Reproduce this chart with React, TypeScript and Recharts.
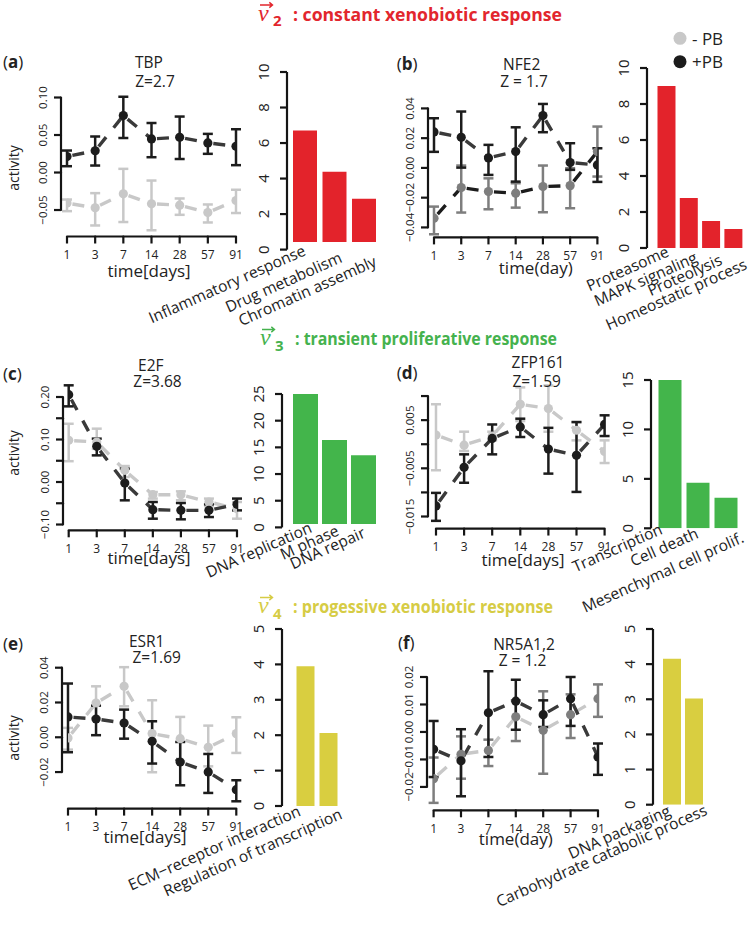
import React from "react";
import { Bar, BarChart, ComposedChart, ErrorBar, Line, XAxis, YAxis } from "recharts";

const DAYS = ["1", "3", "7", "14", "28", "57", "91"];

// (a) TBP
const tbpPb = [0.0213, 0.029, 0.0759, 0.0448, 0.047, 0.0395, 0.035];
const tbpPbLo = [0.0084, 0.0093, 0.046, 0.0204, 0.018, 0.0249, 0.0098];
const tbpPbHi = [0.0293, 0.048, 0.101, 0.066, 0.0746, 0.0515, 0.0577];
const tbpCtl = [-0.0408, -0.047, -0.0284, -0.0417, -0.0435, -0.0533, -0.0373];
const tbpCtlLo = [-0.0515, -0.0706, -0.066, -0.077, -0.0564, -0.0666, -0.054];
const tbpCtlHi = [-0.036, -0.0275, 0.0049, -0.0107, -0.0346, -0.0426, -0.023];

// (b) NFE2
const nfePb = [0.0242, 0.0206, 0.0067, 0.011, 0.0352, 0.0036, 0.002];
const nfePbLo = [0.0108, 0.0002, -0.0047, -0.0092, 0.024, -0.0013, -0.0094];
const nfePbHi = [0.0334, 0.0379, 0.0155, 0.0273, 0.043, 0.0166, 0.0132];
const nfeCtl = [-0.0338, -0.0132, -0.0159, -0.017, -0.0125, -0.0119, 0.011];
const nfeCtlLo = [-0.0446, -0.03, -0.0278, -0.0267, -0.0298, -0.0271, -0.0058];
const nfeCtlHi = [-0.026, 0.0016, -0.007, -0.0103, 0.0016, -0.0002, 0.0278];

// (c) E2F
const e2fPb = [0.2055, 0.0839, -0.0024, -0.0651, -0.0667, -0.0667, -0.0525];
const e2fPbLo = [0.178, 0.0627, -0.0431, -0.0863, -0.0878, -0.0824, -0.0667];
const e2fPbHi = [0.2275, 0.102, 0.0314, -0.047, -0.0494, -0.0525, -0.039];
const e2fCtl = [0.098, 0.094, 0.0275, -0.0298, -0.0298, -0.047, -0.0627];
const e2fCtlLo = [0.049, 0.078, 0.0118, -0.039, -0.043, -0.057, -0.0863];
const e2fCtlHi = [0.137, 0.1255, 0.0376, -0.0235, -0.022, -0.039, -0.047];

// (d) ZFP161
const zfpPb = [-0.0128, -0.0048, 0.0012, 0.0036, -0.001, -0.0023, 0.0041];
const zfpPbLo = [-0.0159, -0.008, -0.0021, 0.0015, -0.0061, -0.0099, 0.0017];
const zfpPbHi = [-0.0101, -0.0021, 0.0041, 0.0053, 0.0034, 0.0046, 0.006];
const zfpCtl = [0.0019, -0.0002, 0.0017, 0.0083, 0.0074, 0.0029, -0.0015];
const zfpCtlLo = [-0.0054, -0.0014, 0.0008, 0.0048, 0.0026, 0.0008, -0.0039];
const zfpCtlHi = [0.0083, 0.0026, 0.0026, 0.0118, 0.0122, 0.0046, 0.0008];

// (e) ESR1
const esrPb = [0.0117, 0.0105, 0.0082, -0.0023, -0.0142, -0.0199, -0.0301];
const esrPbLo = [-0.0086, 0.0012, -0.0008, -0.0151, -0.0276, -0.032, -0.0368];
const esrPbHi = [0.0309, 0.0182, 0.0159, 0.0092, -0.0027, -0.0096, -0.0247];
const esrCtl = [-0.0004, 0.0197, 0.0293, 0.0021, -0.0008, -0.0058, 0.0021];
const esrCtlLo = [-0.0071, 0.0111, 0.0178, -0.0201, -0.0138, -0.0167, -0.009];
const esrCtlHi = [0.0054, 0.0293, 0.0403, 0.0213, 0.0117, 0.0067, 0.0115];

// (f) NR5A1,2
const nr5Pb = [-0.0063, -0.0105, 0.007, 0.0112, 0.0063, 0.0121, -0.0091];
const nr5PbLo = [-0.0164, -0.0234, -0.0091, 0.0008, 0.0018, 0.0022, -0.0156];
const nr5PbHi = [0.004, 0.001, 0.0221, 0.019, 0.0115, 0.02, -0.0042];
const nr5Ctl = [-0.017, -0.0081, -0.0067, 0.0055, 0.0006, 0.0063, 0.0121];
const nr5CtlLo = [-0.0258, -0.017, -0.0124, -0.0033, -0.0152, -0.0022, 0.0055];
const nr5CtlHi = [-0.0093, -0.0016, -0.0028, 0.0115, 0.0148, 0.0137, 0.0173];

// enrichment bars
const termsA = ["Inflammatory response", "Drug metabolism", "Chromatin assembly"];
const scoresA = [6.7, 4.38, 2.87];
const termsB = ["Proteasome", "MAPK signaling", "Proteolysis", "Homeostatic process"];
const scoresB = [9.0, 2.78, 1.5, 1.05];
const termsC = ["DNA replication", "M phase", "DNA repair"];
const scoresC = [26.8, 16.4, 13.5];
const termsD = ["Transcription", "Cell death", "Mesenchymal cell prolif."];
const scoresD = [15.2, 4.6, 3.1];
const termsE = ["ECM\u2212receptor interaction", "Regulation of transcription"];
const scoresE = [3.95, 2.06];
const termsF = ["DNA packaging", "Carbohydrate catabolic process"];
const scoresF = [4.15, 3.02];

const FONT = "'Open Sans', sans-serif";
const AXIS = "#151515";
const INK = "#1c1c1c";
const DASH = "#3a3a3a";
const LIGHT = "#c8c8c8";
const MID = "#7e7e7e";
const RED = "#e3232b";
const GREEN = "#43b54b";
const YELLOW = "#d9ce40";

const minus = (s: string) => s.replace("-", "\u2212");

const pts = (m: number[], lo: number[], hi: number[]) =>
  m.map((y, i) => ({ x: i, y, err: [y - lo[i], hi[i] - y] }));
const segs = (m: number[]) =>
  m.slice(1).map((y, i) => [
    { x: i, y: m[i] },
    { x: i + 1, y },
  ]);

const LINE_PANELS = [
  {
    pb: pts(tbpPb, tbpPbLo, tbpPbHi), pbM: tbpPb,
    ctl: pts(tbpCtl, tbpCtlLo, tbpCtlHi), ctlM: tbpCtl,
    plot: { x: 61, y: 89.5, w: 181, h: 146.5 }, pad: 6,
    yDomain: [-0.0853, 0.11], yTicks: [-0.05, 0, 0.05, 0.1], yLabels: [-0.05, 0, 0.05, 0.1], digits: 2,
    ctlPt: LIGHT, ctlLine: LIGHT,
  },
  {
    pb: pts(nfePb, nfePbLo, nfePbHi), pbM: nfePb,
    ctl: pts(nfeCtl, nfeCtlLo, nfeCtlHi), ctlM: nfeCtl,
    plot: { x: 428.3, y: 98.3, w: 175.4, h: 139.4 }, pad: 6,
    yDomain: [-0.0467, 0.047], yTicks: [-0.04, -0.02, 0, 0.02, 0.04], yLabels: [-0.04, -0.02, 0, 0.02, 0.04], digits: 2,
    ctlPt: MID, ctlLine: INK,
  },
  {
    pb: pts(e2fPb, e2fPbLo, e2fPbHi), pbM: e2fPb,
    ctl: pts(e2fCtl, e2fCtlLo, e2fCtlHi), ctlM: e2fCtl,
    plot: { x: 63.3, y: 379.7, w: 179.7, h: 150.3 }, pad: 5.7,
    yDomain: [-0.1136, 0.24], yTicks: [-0.1, -0.05, 0, 0.05, 0.1, 0.15, 0.2], yLabels: [-0.1, 0, 0.1, 0.2], digits: 2,
    ctlPt: LIGHT, ctlLine: LIGHT,
  },
  {
    pb: pts(zfpPb, zfpPbLo, zfpPbHi), pbM: zfpPb,
    ctl: pts(zfpCtl, zfpCtlLo, zfpCtlHi), ctlM: zfpCtl,
    plot: { x: 427.7, y: 383.75, w: 184.6, h: 144.55 }, pad: 8,
    yDomain: [-0.0175, 0.0125], yTicks: [-0.015, -0.01, -0.005, 0, 0.005, 0.01], yLabels: [-0.015, -0.005, 0.005], digits: 3,
    ctlPt: LIGHT, ctlLine: LIGHT,
  },
  {
    pb: pts(esrPb, esrPbLo, esrPbHi), pbM: esrPb,
    ctl: pts(esrCtl, esrCtlLo, esrCtlHi), ctlM: esrCtl,
    plot: { x: 61.7, y: 659.4, w: 180.3, h: 149.6 }, pad: 6,
    yDomain: [-0.041, 0.045], yTicks: [-0.02, 0, 0.02, 0.04], yLabels: [-0.02, 0, 0.02, 0.04], digits: 2,
    ctlPt: LIGHT, ctlLine: LIGHT,
  },
  {
    pb: pts(nr5Pb, nr5PbLo, nr5PbHi), pbM: nr5Pb,
    ctl: pts(nr5Ctl, nr5CtlLo, nr5CtlHi), ctlM: nr5Ctl,
    plot: { x: 426.7, y: 665.7, w: 177.6, h: 144.3 }, pad: 6.6,
    yDomain: [-0.0285, 0.024], yTicks: [-0.02, -0.01, 0, 0.01, 0.02], yLabels: [-0.02, -0.01, 0, 0.01, 0.02], digits: 2,
    ctlPt: MID, ctlLine: LIGHT,
  },
];

const BAR_PANELS = [
  { terms: termsA, scores: scoresA, color: RED, axisX: 287, top: 71.7, bottom: 249.3, max: 10, ticks: [0, 2, 4, 6, 8, 10], padL: 3, band: 29.5, barSize: 24, base: 0.43, labelDx: [2, 9, 14], labelDy: [5, 12, 16] },
  { terms: termsB, scores: scoresB, color: RED, axisX: 647, top: 68.3, bottom: 248.3, max: 10, ticks: [0, 2, 4, 6, 8, 10], padL: 8.5, band: 22.3, barSize: 18, base: 0, labelDx: [3.3, 9.5, 12, 14.5], labelDy: [7.7, 13.5, 16, 20.5] },
  { terms: termsC, scores: scoresC, color: GREEN, axisX: 282.3, top: 394.3, bottom: 527.7, max: 25, ticks: [0, 5, 10, 15, 20, 25], padL: 9, band: 29, barSize: 25, base: 0.63, labelDx: [7.5, 5.5, 3], labelDy: [4.3, 7.3, 9.3] },
  { terms: termsD, scores: scoresD, color: GREEN, axisX: 651, top: 380, bottom: 528.3, max: 15, ticks: [0, 5, 10, 15], padL: 4.5, band: 28, barSize: 23, base: 0, labelDx: [-6, 2, 19.5], labelDy: [5, 9, 13.4] },
  { terms: termsE, scores: scoresE, color: YELLOW, axisX: 282, top: 629, bottom: 806, max: 5, ticks: [0, 1, 2, 3, 4, 5], padL: 11.5, band: 23, barSize: 18, base: 0, labelDx: [-3.3, 15.3], labelDy: [9, 12] },
  { terms: termsF, scores: scoresF, color: YELLOW, axisX: 653, top: 629, bottom: 804.7, max: 5, ticks: [0, 1, 2, 3, 4, 5], padL: 8, band: 22, barSize: 18, base: 0, labelDx: [-0.3, 14.3], labelDy: [10, 9.5] },
];

const GENES = ["TBP", "NFE2", "E2F", "ZFP161", "ESR1", "NR5A1,2"];
const ZSCORES = ["Z=2.7", "Z = 1.7", "Z=3.68", "Z=1.59", "Z=1.69", "Z = 1.2"];

function LinePanel({ p }: { p: (typeof LINE_PANELS)[number] }) {
  const ML = 44, MT = 12, MR = 12, XH = 50;
  const W = p.plot.w + ML + MR;
  const H = p.plot.h + MT + XH;
  const ppu = p.plot.h / (p.yDomain[1] - p.yDomain[0]);
  const step = (p.plot.w - 2 * p.pad) / 6;

  const yTick = (t: any) => {
    const v = t.payload.value;
    const k = p.yTicks.indexOf(v);
    const next = p.yTicks[k + 1];
    const ax = t.x;
    const y = t.y;
    return (
      <g>
        {next !== undefined && (
          <line x1={ax} x2={ax} y1={y} y2={y - (next - v) * ppu} stroke={AXIS} strokeWidth={2.2} strokeLinecap="round" />
        )}
        <line x1={ax} x2={ax - 7} y1={y} y2={y} stroke={AXIS} strokeWidth={2.2} />
        {p.yLabels.includes(v) && (
          <text
            x={ax - 18}
            y={y}
            transform={`rotate(-90 ${ax - 18} ${y})`}
            textAnchor="middle"
            dominantBaseline="central"
            fontFamily={FONT}
            fontSize={11.5}
            fill="#222"
          >
            {minus(v.toFixed(p.digits))}
          </text>
        )}
      </g>
    );
  };

  const xTick = (t: any) => {
    const i = t.payload.value;
    return (
      <g>
        {i < 6 && <line x1={t.x} x2={t.x + step} y1={t.y} y2={t.y} stroke={AXIS} strokeWidth={2.2} strokeLinecap="round" />}
        <line x1={t.x} x2={t.x} y1={t.y} y2={t.y + 7} stroke={AXIS} strokeWidth={2.2} />
        <text x={t.x} y={t.y + 18} textAnchor="middle" dominantBaseline="central" fontFamily={FONT} fontSize={12} fill="#222">
          {DAYS[i]}
        </text>
      </g>
    );
  };

  return (
    <div style={{ position: "absolute", left: p.plot.x - ML, top: p.plot.y - MT, width: W, height: H }}>
      <ComposedChart width={W} height={H} margin={{ top: MT, right: MR, bottom: 0, left: 0 }}>
        <XAxis
          type="number"
          dataKey="x"
          domain={[0, 6]}
          ticks={[0, 1, 2, 3, 4, 5, 6]}
          padding={{ left: p.pad, right: p.pad }}
          allowDataOverflow
          axisLine={false}
          tickLine={false}
          tickSize={0}
          tickMargin={0}
          interval={0}
          height={XH}
          tick={xTick}
        />
        <YAxis
          type="number"
          domain={p.yDomain}
          ticks={p.yTicks}
          allowDataOverflow
          axisLine={false}
          tickLine={false}
          tickSize={0}
          tickMargin={0}
          interval={0}
          width={ML}
          tick={yTick}
        />
        {segs(p.ctlM).map((d, i) => (
          <Line key={`cs${i}`} data={d} dataKey="y" type="linear" stroke={p.ctlLine} strokeWidth={3.4} strokeDasharray="0 5.5 12 6.5" dot={false} activeDot={false} isAnimationActive={false} />
        ))}
        <Line data={p.ctl} dataKey="y" stroke="none" dot={{ r: 4.6, fill: p.ctlPt, stroke: "none" }} activeDot={false} isAnimationActive={false}>
          <ErrorBar dataKey="err" direction="y" width={5} stroke={p.ctlPt} strokeWidth={2.5} />
        </Line>
        {segs(p.pbM).map((d, i) => (
          <Line key={`ps${i}`} data={d} dataKey="y" type="linear" stroke={DASH} strokeWidth={3.4} strokeDasharray="0 5.5 12 6.5" dot={false} activeDot={false} isAnimationActive={false} />
        ))}
        <Line data={p.pb} dataKey="y" stroke="none" dot={{ r: 4.6, fill: INK, stroke: "none" }} activeDot={false} isAnimationActive={false}>
          <ErrorBar dataKey="err" direction="y" width={5} stroke={INK} strokeWidth={2.5} />
        </Line>
      </ComposedChart>
    </div>
  );
}

function BarPanel({ b }: { b: (typeof BAR_PANELS)[number] }) {
  const ML = 44, MT = 12, MR = 12, XH = 40;
  const plotW = b.padL + b.terms.length * b.band;
  const plotH = b.bottom - b.top;
  const W = plotW + ML + MR;
  const H = plotH + MT + XH;
  const rows = b.terms.map((term, i) => ({ term, range: [b.base, b.scores[i]] }));

  const yTick = (t: any) => (
    <text
      x={t.x - 17}
      y={t.y}
      transform={`rotate(-90 ${t.x - 17} ${t.y})`}
      textAnchor="middle"
      dominantBaseline="central"
      fontFamily={FONT}
      fontSize={15}
      fill="#222"
    >
      {t.payload.value}
    </text>
  );

  const xTick = (t: any) => {
    const ax = t.x + b.labelDx[t.index];
    const ay = t.y + b.labelDy[t.index];
    return (
      <text x={ax} y={ay} transform={`rotate(-24 ${ax} ${ay})`} textAnchor="end" fontFamily={FONT} fontSize={15.6} fill="#222">
        {t.payload.value}
      </text>
    );
  };

  return (
    <div style={{ position: "absolute", left: b.axisX - ML, top: b.top - MT, width: W, height: H }}>
      <BarChart width={W} height={H} data={rows} margin={{ top: MT, right: MR, bottom: 0, left: 0 }} barSize={b.barSize}>
        <XAxis
          dataKey="term"
          type="category"
          padding={{ left: b.padL, right: 0 }}
          axisLine={false}
          tickLine={false}
          tickSize={0}
          tickMargin={0}
          interval={0}
          height={XH}
          tick={xTick}
        />
        <YAxis
          type="number"
          domain={[0, b.max]}
          ticks={b.ticks}
          allowDataOverflow
          axisLine={{ stroke: AXIS, strokeWidth: 2.2 }}
          tickLine={{ stroke: AXIS, strokeWidth: 2.2 }}
          tickSize={7}
          tickMargin={0}
          interval={0}
          width={ML}
          tick={yTick}
        />
        <Bar dataKey="range" fill={b.color} isAnimationActive={false} />
      </BarChart>
    </div>
  );
}

function Header({ x, y, sub, text, color, textW }: { x: number; y: number; sub: string; text: string; color: string; textW: number }) {
  return (
    <g fill={color}>
      <path d={`M${x + 2} ${y - 15.5} h12.5 m-3.2 -2.6 l3.2 2.6 l-3.2 2.6`} stroke={color} strokeWidth={1.4} fill="none" />
      <text x={x} y={y} fontFamily="'Liberation Serif', serif" fontStyle="italic" fontSize={24}>
        v
      </text>
      <text x={x + 15} y={y + 5.5} fontFamily={FONT} fontWeight={700} fontSize={15}>
        {sub}
      </text>
      <text x={x + 35} y={y} fontFamily={FONT} fontWeight={700} fontSize={18} textLength={textW} lengthAdjust="spacingAndGlyphs">
        {text}
      </text>
    </g>
  );
}

const TITLE_POS = [
  { g: [149, 68], z: [155, 87], l: [3, 68] },
  { g: [521.7, 70], z: [524, 87], l: [396.7, 70] },
  { g: [150.8, 371], z: [157.5, 387], l: [3, 380] },
  { g: [538, 368], z: [536.7, 387], l: [396.7, 379] },
  { g: [146.7, 647], z: [156.7, 663], l: [3, 650] },
  { g: [524, 650], z: [522.5, 666], l: [398, 649] },
];
const LETTERS = ["a", "b", "c", "d", "e", "f"];
const X_TITLES = [
  { t: "time[days]", x: 149, y: 277 },
  { t: "time(day)", x: 535.8, y: 274 },
  { t: "time[days]", x: 149, y: 564 },
  { t: "time[days]", x: 523, y: 566 },
  { t: "time[days]", x: 145, y: 843 },
  { t: "time(day)", x: 515.8, y: 845 },
];
const ACTIVITY_Y = [168, 453, 738];

function Overlay() {
  return (
    <svg width={749} height={926} style={{ position: "absolute", left: 0, top: 0, pointerEvents: "none" }}>
      <Header x={258} y={20.5} sub="2" text=": constant xenobiotic response" color="#e2262d" textW={269} />
      <Header x={260} y={345} sub="3" text=": transient proliferative response" color="#45b24e" textW={262} />
      <Header x={258} y={613} sub="4" text=": progessive xenobiotic response" color="#d6cc45" textW={260} />

      <circle cx={680} cy={38.3} r={6.5} fill={LIGHT} />
      <text x={692} y={44.5} fontFamily={FONT} fontSize={17} fill="#222">- PB</text>
      <circle cx={680} cy={61.7} r={6.5} fill={INK} />
      <text x={692} y={67.5} fontFamily={FONT} fontSize={17} fill="#222">+PB</text>

      {TITLE_POS.map((tp, i) => (
        <g key={i} fontFamily={FONT} fill="#222">
          <text x={tp.l[0]} y={tp.l[1]} fontSize={17}>
            (<tspan fontWeight={700}>{LETTERS[i]}</tspan>)
          </text>
          <text x={tp.g[0]} y={tp.g[1]} textAnchor="middle" fontSize={15.5}>{GENES[i]}</text>
          <text x={tp.z[0]} y={tp.z[1]} textAnchor="middle" fontSize={15.5}>{ZSCORES[i]}</text>
        </g>
      ))}
      {X_TITLES.map((xt, i) => (
        <text key={i} x={xt.x} y={xt.y} textAnchor="middle" fontFamily={FONT} fontSize={17} fill="#222">
          {xt.t}
        </text>
      ))}
      {ACTIVITY_Y.map((y, i) => (
        <text key={i} x={19} y={y} transform={`rotate(-90 19 ${y})`} textAnchor="middle" fontFamily={FONT} fontSize={14} fill="#222">
          activity
        </text>
      ))}
    </svg>
  );
}

export default function App() {
  return (
    <div style={{ position: "absolute", left: 0, top: 0, width: 749, height: 926, background: "#fff", overflow: "hidden" }}>
      <style>{".recharts-surface{overflow:visible}"}</style>
      {LINE_PANELS.map((p, i) => (
        <LinePanel key={i} p={p} />
      ))}
      {BAR_PANELS.map((b, i) => (
        <BarPanel key={i} b={b} />
      ))}
      <Overlay />
    </div>
  );
}
